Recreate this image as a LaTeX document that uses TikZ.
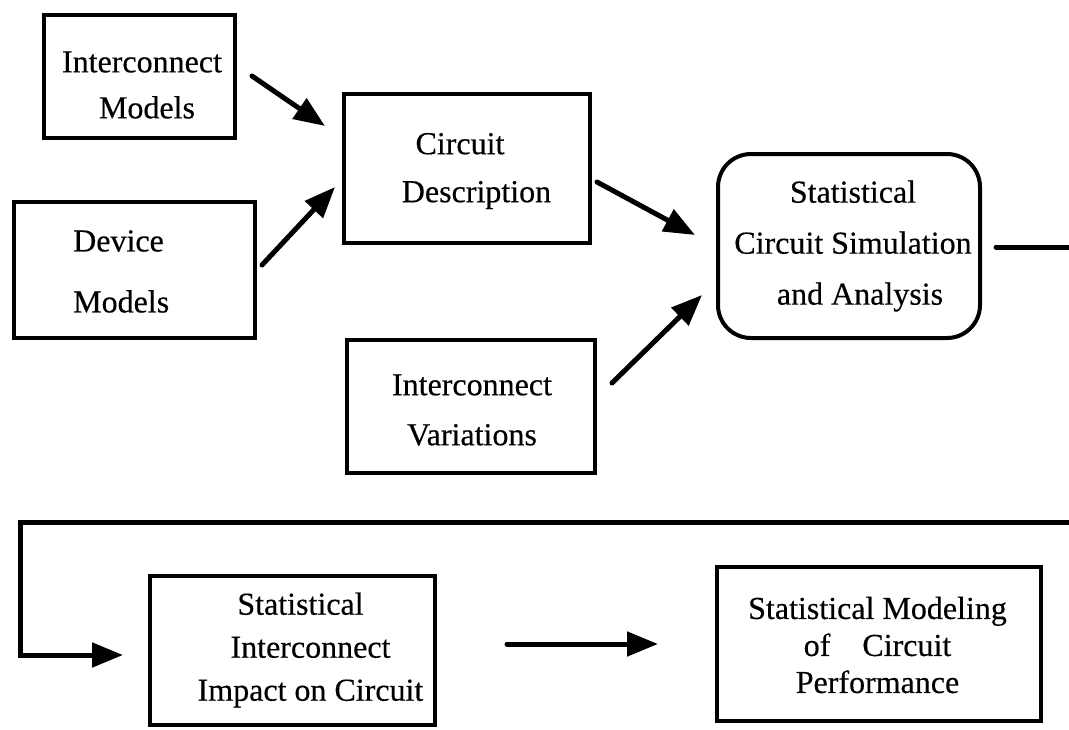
\documentclass[tikz,border=0pt]{standalone}
\usepackage{fontspec}
\setmainfont[FakeBold=0.4]{Liberation Serif}
\usetikzlibrary{arrows.meta}
\begin{document}
\begin{tikzpicture}[x=1pt,y=-1pt,
  box/.style={draw,line width=4pt,rectangle,inner sep=0pt},
  rbox/.style={box,rounded corners=33pt},
  lbl/.style={inner sep=0pt,font=\fontsize{32}{#1}\selectfont,align=center},
  conn/.style={line width=5pt,line cap=round},
  arr/.style={conn,-{Triangle[length=31pt,width=24pt]}}]
\useasboundingbox (0,0) rectangle (1069,729);
% boxes
\node[box,minimum width=191pt,minimum height=123pt] (im) at (139.5,76.5) {};
\node[box,minimum width=241pt,minimum height=136pt] (dm) at (134.5,270) {};
\node[box,minimum width=246pt,minimum height=149pt] (cd) at (467,168.5) {};
\node[box,minimum width=248pt,minimum height=133pt] (iv) at (471,406.5) {};
\node[rbox,minimum width=262pt,minimum height=184pt] (sim) at (849,246) {};
\node[box,minimum width=285pt,minimum height=149pt] (imp) at (292.5,650) {};
\node[box,minimum width=324pt,minimum height=154pt] (mod) at (879,644) {};
% texts
\node[lbl=46] (imt) at (142,85) {Interconnect\\\hspace*{10pt}Models};
\node[lbl=61,anchor=west,align=left] (dmt) at (73,271.5) {Device\\Models};
\node[lbl=48] (cdt) at (476.5,171) {Circuit\hspace*{33pt}\\Description};
\node[lbl=50] (ivt) at (472,410) {Interconnect\\Variations};
\node[lbl=51] (simt) at (853,246) {Statistical\\Circuit Simulation\\\hspace*{14pt}and Analysis};
\node[lbl=43] (impt) at (310.5,650) {Statistical\hspace*{20pt}\\Interconnect\hspace*{9pt}\\Impact on Circuit};
\node[lbl=37] (modt) at (877.5,645) {Statistical Modeling\\of\quad Circuit\hspace*{25pt}\\Performance};
% connector end points
\coordinate (a1s) at (252,76);  \coordinate (a1e) at (325,126);
\coordinate (a2s) at (262,265); \coordinate (a2e) at (335,187);
\coordinate (a3s) at (597,182); \coordinate (a3e) at (695,235);
\coordinate (a4s) at (612,383); \coordinate (a4e) at (702,295);
\coordinate (s1) at (996,247);  \coordinate (s2) at (1069,247);
\coordinate (r1) at (1069,522); \coordinate (r2) at (20,522);
\coordinate (r3) at (20,655);   \coordinate (r4) at (123,655);
\coordinate (b1) at (507,644);  \coordinate (b2) at (658,644);
% connectors
\draw[arr] (a1s) -- (a1e);
\draw[arr] (a2s) -- (a2e);
\draw[arr] (a3s) -- (a3e);
\draw[arr] (a4s) -- (a4e);
\draw[conn] (s1) -- (s2);
\draw[arr,line cap=butt,line join=miter] (r1) -- (r2) -- (r3) -- (r4);
\draw[arr] (b1) -- (b2);
\end{tikzpicture}
\end{document}
